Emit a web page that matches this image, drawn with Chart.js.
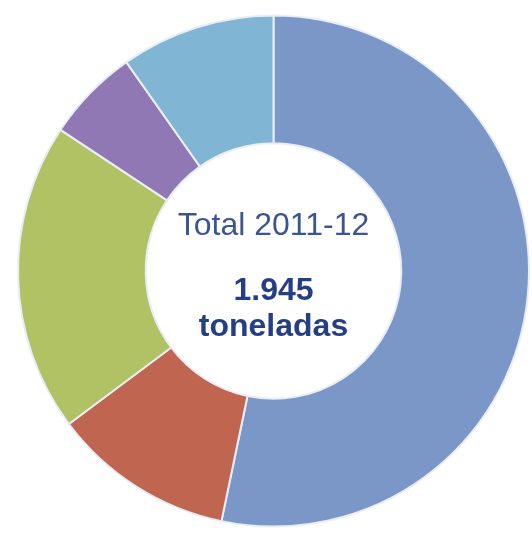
<!DOCTYPE html>
<html>
<head>
<meta charset="utf-8">
<script src="https://cdn.jsdelivr.net/npm/chart.js@4"></script>
<style>
  html, body { margin: 0; padding: 0; background: #fff; }
  #wrap { width: 532px; height: 533px; }
</style>
</head>
<body>
<div id="wrap"><canvas id="donut" width="532" height="533"></canvas></div>
<script>
// slices, clockwise from the top (toneladas)
var labels = ['Categoría 1', 'Categoría 2', 'Categoría 3', 'Categoría 4', 'Categoría 5'];
var toneladas = [1036, 224, 380, 115, 190];
var colores = ['#7b97c8', '#c0654f', '#b0c264', '#8f78b3', '#80b5d3'];

var centerText = {
    id: 'centerText',
    afterDraw: function(chart) {
        var ctx = chart.ctx;
        var arc = chart.getDatasetMeta(0).data[0];
        var x = arc.x, y = arc.y;
        ctx.save();
        ctx.textAlign = 'center';
        ctx.textBaseline = 'middle';
        ctx.fillStyle = '#3a5590';
        ctx.font = '32px "Liberation Sans", Arial, sans-serif';
        ctx.fillText('Total 2011-12', x, y - 45);
        ctx.fillStyle = '#253f86';
        ctx.font = 'bold 32px "Liberation Sans", Arial, sans-serif';
        ctx.fillText('1.945', x, y + 20);
        ctx.fillText('toneladas', x, y + 56);
        ctx.restore();
    }
};

var myChart = new Chart(document.getElementById('donut').getContext('2d'), {
    type: 'doughnut',
    data: {
        labels: labels,
        datasets: [{
            data: toneladas,
            backgroundColor: colores,
            borderColor: '#e9eef6',
            borderWidth: 2
        }]
    },
    options: {
        responsive: false,
        animation: false,
        cutout: '50%',
        layout: { padding: { left: 17, right: 2, top: 14, bottom: 5 } },
        plugins: {
            legend: { display: false },
            tooltip: { enabled: false }
        }
    },
    plugins: [centerText]
});
</script>
</body>
</html>
